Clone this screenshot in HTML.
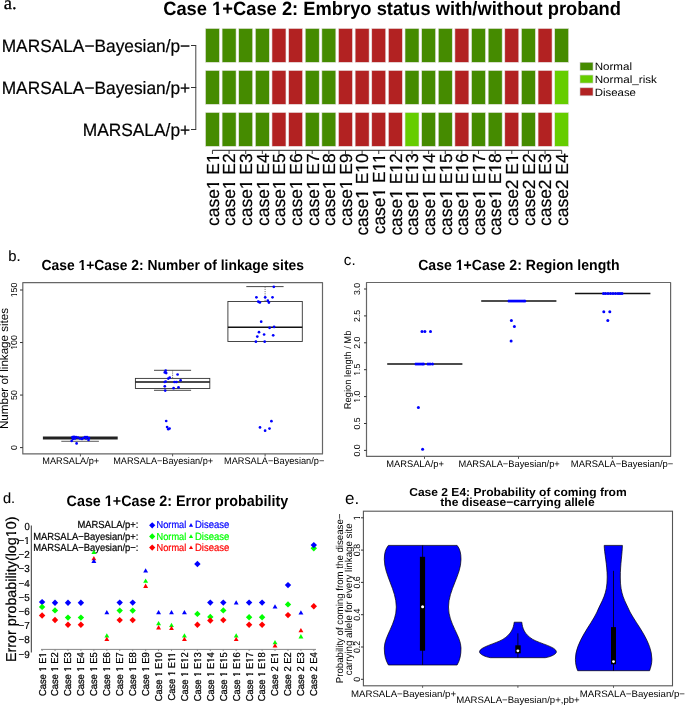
<!DOCTYPE html>
<html><head><meta charset="utf-8"><style>
html,body{margin:0;padding:0;background:#fff;}
body{width:685px;height:705px;overflow:hidden;}
svg{display:block;will-change:transform;}
text{text-rendering:geometricPrecision;}
</style></head><body>
<svg width="685" height="705" viewBox="0 0 685 705">
<rect width="685" height="705" fill="#fff"/>
<text x="3.8" y="9" font-size="18.5" font-family="Liberation Serif, sans-serif" stroke="#000" stroke-width="0.3" >a.</text>
<text x="163.2" y="15" font-size="19.2" font-family="Liberation Sans, sans-serif" font-weight="bold" textLength="457.8" lengthAdjust="spacingAndGlyphs" >Case 1+Case 2: Embryo status with/without proband</text><path d="M212.15 12.04H216.08V16.00H212.15ZM219.19 12.04H222.89V16.00H219.19Z" fill="#fff"/>
<rect x="205.45" y="28.45" width="14.0" height="33.9" fill="#458B00" stroke="#e8e4e4" stroke-width="0.6" />
<rect x="222.08" y="28.45" width="14.0" height="33.9" fill="#458B00" stroke="#e8e4e4" stroke-width="0.6" />
<rect x="238.71" y="28.45" width="14.0" height="33.9" fill="#458B00" stroke="#e8e4e4" stroke-width="0.6" />
<rect x="255.34" y="28.45" width="14.0" height="33.9" fill="#458B00" stroke="#e8e4e4" stroke-width="0.6" />
<rect x="271.97" y="28.45" width="14.0" height="33.9" fill="#B22222" stroke="#e8e4e4" stroke-width="0.6" />
<rect x="288.60" y="28.45" width="14.0" height="33.9" fill="#B22222" stroke="#e8e4e4" stroke-width="0.6" />
<rect x="305.23" y="28.45" width="14.0" height="33.9" fill="#458B00" stroke="#e8e4e4" stroke-width="0.6" />
<rect x="321.86" y="28.45" width="14.0" height="33.9" fill="#458B00" stroke="#e8e4e4" stroke-width="0.6" />
<rect x="338.49" y="28.45" width="14.0" height="33.9" fill="#B22222" stroke="#e8e4e4" stroke-width="0.6" />
<rect x="355.12" y="28.45" width="14.0" height="33.9" fill="#B22222" stroke="#e8e4e4" stroke-width="0.6" />
<rect x="371.75" y="28.45" width="14.0" height="33.9" fill="#B22222" stroke="#e8e4e4" stroke-width="0.6" />
<rect x="388.38" y="28.45" width="14.0" height="33.9" fill="#B22222" stroke="#e8e4e4" stroke-width="0.6" />
<rect x="405.01" y="28.45" width="14.0" height="33.9" fill="#458B00" stroke="#e8e4e4" stroke-width="0.6" />
<rect x="421.64" y="28.45" width="14.0" height="33.9" fill="#458B00" stroke="#e8e4e4" stroke-width="0.6" />
<rect x="438.27" y="28.45" width="14.0" height="33.9" fill="#458B00" stroke="#e8e4e4" stroke-width="0.6" />
<rect x="454.90" y="28.45" width="14.0" height="33.9" fill="#B22222" stroke="#e8e4e4" stroke-width="0.6" />
<rect x="471.53" y="28.45" width="14.0" height="33.9" fill="#458B00" stroke="#e8e4e4" stroke-width="0.6" />
<rect x="488.16" y="28.45" width="14.0" height="33.9" fill="#458B00" stroke="#e8e4e4" stroke-width="0.6" />
<rect x="504.79" y="28.45" width="14.0" height="33.9" fill="#B22222" stroke="#e8e4e4" stroke-width="0.6" />
<rect x="521.42" y="28.45" width="14.0" height="33.9" fill="#458B00" stroke="#e8e4e4" stroke-width="0.6" />
<rect x="538.05" y="28.45" width="14.0" height="33.9" fill="#B22222" stroke="#e8e4e4" stroke-width="0.6" />
<rect x="554.68" y="28.45" width="14.0" height="33.9" fill="#458B00" stroke="#e8e4e4" stroke-width="0.6" />
<rect x="205.45" y="70.45" width="14.0" height="33.9" fill="#458B00" stroke="#e8e4e4" stroke-width="0.6" />
<rect x="222.08" y="70.45" width="14.0" height="33.9" fill="#458B00" stroke="#e8e4e4" stroke-width="0.6" />
<rect x="238.71" y="70.45" width="14.0" height="33.9" fill="#458B00" stroke="#e8e4e4" stroke-width="0.6" />
<rect x="255.34" y="70.45" width="14.0" height="33.9" fill="#458B00" stroke="#e8e4e4" stroke-width="0.6" />
<rect x="271.97" y="70.45" width="14.0" height="33.9" fill="#B22222" stroke="#e8e4e4" stroke-width="0.6" />
<rect x="288.60" y="70.45" width="14.0" height="33.9" fill="#B22222" stroke="#e8e4e4" stroke-width="0.6" />
<rect x="305.23" y="70.45" width="14.0" height="33.9" fill="#458B00" stroke="#e8e4e4" stroke-width="0.6" />
<rect x="321.86" y="70.45" width="14.0" height="33.9" fill="#458B00" stroke="#e8e4e4" stroke-width="0.6" />
<rect x="338.49" y="70.45" width="14.0" height="33.9" fill="#B22222" stroke="#e8e4e4" stroke-width="0.6" />
<rect x="355.12" y="70.45" width="14.0" height="33.9" fill="#B22222" stroke="#e8e4e4" stroke-width="0.6" />
<rect x="371.75" y="70.45" width="14.0" height="33.9" fill="#B22222" stroke="#e8e4e4" stroke-width="0.6" />
<rect x="388.38" y="70.45" width="14.0" height="33.9" fill="#B22222" stroke="#e8e4e4" stroke-width="0.6" />
<rect x="405.01" y="70.45" width="14.0" height="33.9" fill="#458B00" stroke="#e8e4e4" stroke-width="0.6" />
<rect x="421.64" y="70.45" width="14.0" height="33.9" fill="#458B00" stroke="#e8e4e4" stroke-width="0.6" />
<rect x="438.27" y="70.45" width="14.0" height="33.9" fill="#458B00" stroke="#e8e4e4" stroke-width="0.6" />
<rect x="454.90" y="70.45" width="14.0" height="33.9" fill="#B22222" stroke="#e8e4e4" stroke-width="0.6" />
<rect x="471.53" y="70.45" width="14.0" height="33.9" fill="#458B00" stroke="#e8e4e4" stroke-width="0.6" />
<rect x="488.16" y="70.45" width="14.0" height="33.9" fill="#458B00" stroke="#e8e4e4" stroke-width="0.6" />
<rect x="504.79" y="70.45" width="14.0" height="33.9" fill="#B22222" stroke="#e8e4e4" stroke-width="0.6" />
<rect x="521.42" y="70.45" width="14.0" height="33.9" fill="#458B00" stroke="#e8e4e4" stroke-width="0.6" />
<rect x="538.05" y="70.45" width="14.0" height="33.9" fill="#B22222" stroke="#e8e4e4" stroke-width="0.6" />
<rect x="554.68" y="70.45" width="14.0" height="33.9" fill="#66CD00" stroke="#e8e4e4" stroke-width="0.6" />
<rect x="205.45" y="112.45" width="14.0" height="33.9" fill="#458B00" stroke="#e8e4e4" stroke-width="0.6" />
<rect x="222.08" y="112.45" width="14.0" height="33.9" fill="#458B00" stroke="#e8e4e4" stroke-width="0.6" />
<rect x="238.71" y="112.45" width="14.0" height="33.9" fill="#458B00" stroke="#e8e4e4" stroke-width="0.6" />
<rect x="255.34" y="112.45" width="14.0" height="33.9" fill="#458B00" stroke="#e8e4e4" stroke-width="0.6" />
<rect x="271.97" y="112.45" width="14.0" height="33.9" fill="#B22222" stroke="#e8e4e4" stroke-width="0.6" />
<rect x="288.60" y="112.45" width="14.0" height="33.9" fill="#B22222" stroke="#e8e4e4" stroke-width="0.6" />
<rect x="305.23" y="112.45" width="14.0" height="33.9" fill="#458B00" stroke="#e8e4e4" stroke-width="0.6" />
<rect x="321.86" y="112.45" width="14.0" height="33.9" fill="#458B00" stroke="#e8e4e4" stroke-width="0.6" />
<rect x="338.49" y="112.45" width="14.0" height="33.9" fill="#B22222" stroke="#e8e4e4" stroke-width="0.6" />
<rect x="355.12" y="112.45" width="14.0" height="33.9" fill="#B22222" stroke="#e8e4e4" stroke-width="0.6" />
<rect x="371.75" y="112.45" width="14.0" height="33.9" fill="#B22222" stroke="#e8e4e4" stroke-width="0.6" />
<rect x="388.38" y="112.45" width="14.0" height="33.9" fill="#B22222" stroke="#e8e4e4" stroke-width="0.6" />
<rect x="405.01" y="112.45" width="14.0" height="33.9" fill="#66CD00" stroke="#e8e4e4" stroke-width="0.6" />
<rect x="421.64" y="112.45" width="14.0" height="33.9" fill="#458B00" stroke="#e8e4e4" stroke-width="0.6" />
<rect x="438.27" y="112.45" width="14.0" height="33.9" fill="#458B00" stroke="#e8e4e4" stroke-width="0.6" />
<rect x="454.90" y="112.45" width="14.0" height="33.9" fill="#B22222" stroke="#e8e4e4" stroke-width="0.6" />
<rect x="471.53" y="112.45" width="14.0" height="33.9" fill="#458B00" stroke="#e8e4e4" stroke-width="0.6" />
<rect x="488.16" y="112.45" width="14.0" height="33.9" fill="#458B00" stroke="#e8e4e4" stroke-width="0.6" />
<rect x="504.79" y="112.45" width="14.0" height="33.9" fill="#B22222" stroke="#e8e4e4" stroke-width="0.6" />
<rect x="521.42" y="112.45" width="14.0" height="33.9" fill="#458B00" stroke="#e8e4e4" stroke-width="0.6" />
<rect x="538.05" y="112.45" width="14.0" height="33.9" fill="#B22222" stroke="#e8e4e4" stroke-width="0.6" />
<rect x="554.68" y="112.45" width="14.0" height="33.9" fill="#66CD00" stroke="#e8e4e4" stroke-width="0.6" />
<line x1="195.8" y1="45.5" x2="195.8" y2="129.5" stroke="#444" stroke-width="1" />
<line x1="191" y1="45.5" x2="196.2" y2="45.5" stroke="#333" stroke-width="1" />
<line x1="191" y1="87.5" x2="196.2" y2="87.5" stroke="#333" stroke-width="1" />
<line x1="191" y1="129.5" x2="196.2" y2="129.5" stroke="#333" stroke-width="1" />
<text x="190.2" y="52" font-size="17.9" font-family="Liberation Sans, sans-serif" text-anchor="end" stroke="#000" stroke-width="0.2" textLength="188.5" lengthAdjust="spacingAndGlyphs" >MARSALA−Bayesian/p−</text>
<text x="190.2" y="94" font-size="17.9" font-family="Liberation Sans, sans-serif" text-anchor="end" stroke="#000" stroke-width="0.2" textLength="188.5" lengthAdjust="spacingAndGlyphs" >MARSALA−Bayesian/p+</text>
<text x="190.2" y="136" font-size="17.9" font-family="Liberation Sans, sans-serif" text-anchor="end" stroke="#000" stroke-width="0.2" textLength="107.5" lengthAdjust="spacingAndGlyphs" >MARSALA/p+</text>
<line x1="212.45" y1="150.3" x2="561.68" y2="150.3" stroke="#222" stroke-width="1" />
<line x1="212.45" y1="150.3" x2="212.45" y2="154.0" stroke="#222" stroke-width="0.9" />
<line x1="229.07999999999998" y1="150.3" x2="229.07999999999998" y2="154.0" stroke="#222" stroke-width="0.9" />
<line x1="245.70999999999998" y1="150.3" x2="245.70999999999998" y2="154.0" stroke="#222" stroke-width="0.9" />
<line x1="262.34" y1="150.3" x2="262.34" y2="154.0" stroke="#222" stroke-width="0.9" />
<line x1="278.96999999999997" y1="150.3" x2="278.96999999999997" y2="154.0" stroke="#222" stroke-width="0.9" />
<line x1="295.59999999999997" y1="150.3" x2="295.59999999999997" y2="154.0" stroke="#222" stroke-width="0.9" />
<line x1="312.23" y1="150.3" x2="312.23" y2="154.0" stroke="#222" stroke-width="0.9" />
<line x1="328.86" y1="150.3" x2="328.86" y2="154.0" stroke="#222" stroke-width="0.9" />
<line x1="345.49" y1="150.3" x2="345.49" y2="154.0" stroke="#222" stroke-width="0.9" />
<line x1="362.12" y1="150.3" x2="362.12" y2="154.0" stroke="#222" stroke-width="0.9" />
<line x1="378.75" y1="150.3" x2="378.75" y2="154.0" stroke="#222" stroke-width="0.9" />
<line x1="395.38" y1="150.3" x2="395.38" y2="154.0" stroke="#222" stroke-width="0.9" />
<line x1="412.01" y1="150.3" x2="412.01" y2="154.0" stroke="#222" stroke-width="0.9" />
<line x1="428.64" y1="150.3" x2="428.64" y2="154.0" stroke="#222" stroke-width="0.9" />
<line x1="445.27" y1="150.3" x2="445.27" y2="154.0" stroke="#222" stroke-width="0.9" />
<line x1="461.9" y1="150.3" x2="461.9" y2="154.0" stroke="#222" stroke-width="0.9" />
<line x1="478.53" y1="150.3" x2="478.53" y2="154.0" stroke="#222" stroke-width="0.9" />
<line x1="495.15999999999997" y1="150.3" x2="495.15999999999997" y2="154.0" stroke="#222" stroke-width="0.9" />
<line x1="511.78999999999996" y1="150.3" x2="511.78999999999996" y2="154.0" stroke="#222" stroke-width="0.9" />
<line x1="528.42" y1="150.3" x2="528.42" y2="154.0" stroke="#222" stroke-width="0.9" />
<line x1="545.05" y1="150.3" x2="545.05" y2="154.0" stroke="#222" stroke-width="0.9" />
<line x1="561.68" y1="150.3" x2="561.68" y2="154.0" stroke="#222" stroke-width="0.9" />
<text transform="translate(219,153.4) rotate(-90)" font-size="17.49" font-family="Liberation Sans, sans-serif" text-anchor="end" stroke="#000" stroke-width="0.2" textLength="72.55" lengthAdjust="spacingAndGlyphs" >case1 E1</text><path transform="translate(219,153.4) rotate(-90)" d="M-35.68 -2.41H-31.83V1.10H-35.68ZM-29.49 -2.41H-25.78V1.10H-29.49ZM-9.56 -2.41H-5.71V1.10H-9.56ZM-3.37 -2.41H0.34V1.10H-3.37Z" fill="#fff"/>
<text transform="translate(235,153.4) rotate(-90)" font-size="17.49" font-family="Liberation Sans, sans-serif" text-anchor="end" stroke="#000" stroke-width="0.2" textLength="72.55" lengthAdjust="spacingAndGlyphs" >case1 E2</text><path transform="translate(235,153.4) rotate(-90)" d="M-35.68 -2.41H-31.83V1.10H-35.68ZM-29.49 -2.41H-25.78V1.10H-29.49Z" fill="#fff"/>
<text transform="translate(252,153.4) rotate(-90)" font-size="17.49" font-family="Liberation Sans, sans-serif" text-anchor="end" stroke="#000" stroke-width="0.2" textLength="72.55" lengthAdjust="spacingAndGlyphs" >case1 E3</text><path transform="translate(252,153.4) rotate(-90)" d="M-35.68 -2.41H-31.83V1.10H-35.68ZM-29.49 -2.41H-25.78V1.10H-29.49Z" fill="#fff"/>
<text transform="translate(269,153.4) rotate(-90)" font-size="17.49" font-family="Liberation Sans, sans-serif" text-anchor="end" stroke="#000" stroke-width="0.2" textLength="72.55" lengthAdjust="spacingAndGlyphs" >case1 E4</text><path transform="translate(269,153.4) rotate(-90)" d="M-35.68 -2.41H-31.83V1.10H-35.68ZM-29.49 -2.41H-25.78V1.10H-29.49Z" fill="#fff"/>
<text transform="translate(285,153.4) rotate(-90)" font-size="17.49" font-family="Liberation Sans, sans-serif" text-anchor="end" stroke="#000" stroke-width="0.2" textLength="72.55" lengthAdjust="spacingAndGlyphs" >case1 E5</text><path transform="translate(285,153.4) rotate(-90)" d="M-35.68 -2.41H-31.83V1.10H-35.68ZM-29.49 -2.41H-25.78V1.10H-29.49Z" fill="#fff"/>
<text transform="translate(302,153.4) rotate(-90)" font-size="17.49" font-family="Liberation Sans, sans-serif" text-anchor="end" stroke="#000" stroke-width="0.2" textLength="72.55" lengthAdjust="spacingAndGlyphs" >case1 E6</text><path transform="translate(302,153.4) rotate(-90)" d="M-35.68 -2.41H-31.83V1.10H-35.68ZM-29.49 -2.41H-25.78V1.10H-29.49Z" fill="#fff"/>
<text transform="translate(319,153.4) rotate(-90)" font-size="17.49" font-family="Liberation Sans, sans-serif" text-anchor="end" stroke="#000" stroke-width="0.2" textLength="72.55" lengthAdjust="spacingAndGlyphs" >case1 E7</text><path transform="translate(319,153.4) rotate(-90)" d="M-35.68 -2.41H-31.83V1.10H-35.68ZM-29.49 -2.41H-25.78V1.10H-29.49Z" fill="#fff"/>
<text transform="translate(335,153.4) rotate(-90)" font-size="17.49" font-family="Liberation Sans, sans-serif" text-anchor="end" stroke="#000" stroke-width="0.2" textLength="72.55" lengthAdjust="spacingAndGlyphs" >case1 E8</text><path transform="translate(335,153.4) rotate(-90)" d="M-35.68 -2.41H-31.83V1.10H-35.68ZM-29.49 -2.41H-25.78V1.10H-29.49Z" fill="#fff"/>
<text transform="translate(352,153.4) rotate(-90)" font-size="17.49" font-family="Liberation Sans, sans-serif" text-anchor="end" stroke="#000" stroke-width="0.2" textLength="72.55" lengthAdjust="spacingAndGlyphs" >case1 E9</text><path transform="translate(352,153.4) rotate(-90)" d="M-35.68 -2.41H-31.83V1.10H-35.68ZM-29.49 -2.41H-25.78V1.10H-29.49Z" fill="#fff"/>
<text transform="translate(368,153.4) rotate(-90)" font-size="17.49" font-family="Liberation Sans, sans-serif" text-anchor="end" stroke="#000" stroke-width="0.2" textLength="82.23" lengthAdjust="spacingAndGlyphs" >case1 E10</text><path transform="translate(368,153.4) rotate(-90)" d="M-45.36 -2.41H-41.51V1.10H-45.36ZM-39.17 -2.41H-35.45V1.10H-39.17ZM-19.23 -2.41H-15.38V1.10H-19.23ZM-13.04 -2.41H-9.33V1.10H-13.04Z" fill="#fff"/>
<text transform="translate(385,153.4) rotate(-90)" font-size="17.49" font-family="Liberation Sans, sans-serif" text-anchor="end" stroke="#000" stroke-width="0.2" textLength="80.93" lengthAdjust="spacingAndGlyphs" >case1 E11</text><path transform="translate(385,153.4) rotate(-90)" d="M-44.06 -2.41H-40.21V1.10H-44.06ZM-37.87 -2.41H-34.16V1.10H-37.87ZM-17.94 -2.41H-14.09V1.10H-17.94ZM-11.75 -2.41H-8.04V1.10H-11.75ZM-9.56 -2.41H-5.71V1.10H-9.56ZM-3.37 -2.41H0.34V1.10H-3.37Z" fill="#fff"/>
<text transform="translate(402,153.4) rotate(-90)" font-size="17.49" font-family="Liberation Sans, sans-serif" text-anchor="end" stroke="#000" stroke-width="0.2" textLength="82.23" lengthAdjust="spacingAndGlyphs" >case1 E12</text><path transform="translate(402,153.4) rotate(-90)" d="M-45.36 -2.41H-41.51V1.10H-45.36ZM-39.17 -2.41H-35.45V1.10H-39.17ZM-19.23 -2.41H-15.38V1.10H-19.23ZM-13.04 -2.41H-9.33V1.10H-13.04Z" fill="#fff"/>
<text transform="translate(418,153.4) rotate(-90)" font-size="17.49" font-family="Liberation Sans, sans-serif" text-anchor="end" stroke="#000" stroke-width="0.2" textLength="82.23" lengthAdjust="spacingAndGlyphs" >case1 E13</text><path transform="translate(418,153.4) rotate(-90)" d="M-45.36 -2.41H-41.51V1.10H-45.36ZM-39.17 -2.41H-35.45V1.10H-39.17ZM-19.23 -2.41H-15.38V1.10H-19.23ZM-13.04 -2.41H-9.33V1.10H-13.04Z" fill="#fff"/>
<text transform="translate(435,153.4) rotate(-90)" font-size="17.49" font-family="Liberation Sans, sans-serif" text-anchor="end" stroke="#000" stroke-width="0.2" textLength="82.23" lengthAdjust="spacingAndGlyphs" >case1 E14</text><path transform="translate(435,153.4) rotate(-90)" d="M-45.36 -2.41H-41.51V1.10H-45.36ZM-39.17 -2.41H-35.45V1.10H-39.17ZM-19.23 -2.41H-15.38V1.10H-19.23ZM-13.04 -2.41H-9.33V1.10H-13.04Z" fill="#fff"/>
<text transform="translate(452,153.4) rotate(-90)" font-size="17.49" font-family="Liberation Sans, sans-serif" text-anchor="end" stroke="#000" stroke-width="0.2" textLength="82.23" lengthAdjust="spacingAndGlyphs" >case1 E15</text><path transform="translate(452,153.4) rotate(-90)" d="M-45.36 -2.41H-41.51V1.10H-45.36ZM-39.17 -2.41H-35.45V1.10H-39.17ZM-19.23 -2.41H-15.38V1.10H-19.23ZM-13.04 -2.41H-9.33V1.10H-13.04Z" fill="#fff"/>
<text transform="translate(468,153.4) rotate(-90)" font-size="17.49" font-family="Liberation Sans, sans-serif" text-anchor="end" stroke="#000" stroke-width="0.2" textLength="82.23" lengthAdjust="spacingAndGlyphs" >case1 E16</text><path transform="translate(468,153.4) rotate(-90)" d="M-45.36 -2.41H-41.51V1.10H-45.36ZM-39.17 -2.41H-35.45V1.10H-39.17ZM-19.23 -2.41H-15.38V1.10H-19.23ZM-13.04 -2.41H-9.33V1.10H-13.04Z" fill="#fff"/>
<text transform="translate(485,153.4) rotate(-90)" font-size="17.49" font-family="Liberation Sans, sans-serif" text-anchor="end" stroke="#000" stroke-width="0.2" textLength="82.23" lengthAdjust="spacingAndGlyphs" >case1 E17</text><path transform="translate(485,153.4) rotate(-90)" d="M-45.36 -2.41H-41.51V1.10H-45.36ZM-39.17 -2.41H-35.45V1.10H-39.17ZM-19.23 -2.41H-15.38V1.10H-19.23ZM-13.04 -2.41H-9.33V1.10H-13.04Z" fill="#fff"/>
<text transform="translate(501,153.4) rotate(-90)" font-size="17.49" font-family="Liberation Sans, sans-serif" text-anchor="end" stroke="#000" stroke-width="0.2" textLength="82.23" lengthAdjust="spacingAndGlyphs" >case1 E18</text><path transform="translate(501,153.4) rotate(-90)" d="M-45.36 -2.41H-41.51V1.10H-45.36ZM-39.17 -2.41H-35.45V1.10H-39.17ZM-19.23 -2.41H-15.38V1.10H-19.23ZM-13.04 -2.41H-9.33V1.10H-13.04Z" fill="#fff"/>
<text transform="translate(518,153.4) rotate(-90)" font-size="17.49" font-family="Liberation Sans, sans-serif" text-anchor="end" stroke="#000" stroke-width="0.2" textLength="72.55" lengthAdjust="spacingAndGlyphs" >case2 E1</text><path transform="translate(518,153.4) rotate(-90)" d="M-9.56 -2.41H-5.71V1.10H-9.56ZM-3.37 -2.41H0.34V1.10H-3.37Z" fill="#fff"/>
<text transform="translate(535,153.4) rotate(-90)" font-size="17.49" font-family="Liberation Sans, sans-serif" text-anchor="end" stroke="#000" stroke-width="0.2" textLength="72.55" lengthAdjust="spacingAndGlyphs" >case2 E2</text>
<text transform="translate(551,153.4) rotate(-90)" font-size="17.49" font-family="Liberation Sans, sans-serif" text-anchor="end" stroke="#000" stroke-width="0.2" textLength="72.55" lengthAdjust="spacingAndGlyphs" >case2 E3</text>
<text transform="translate(568,153.4) rotate(-90)" font-size="17.49" font-family="Liberation Sans, sans-serif" text-anchor="end" stroke="#000" stroke-width="0.2" textLength="72.55" lengthAdjust="spacingAndGlyphs" >case2 E4</text>
<rect x="580" y="62.3" width="13" height="8" fill="#458B00" stroke="#ccc" stroke-width="0.6" />
<text x="594.7" y="70" font-size="10.6" font-family="Liberation Sans, sans-serif" textLength="37.3" lengthAdjust="spacingAndGlyphs" >Normal</text>
<rect x="580" y="75.05" width="13" height="8" fill="#66CD00" stroke="#ccc" stroke-width="0.6" />
<text x="594.7" y="83" font-size="10.6" font-family="Liberation Sans, sans-serif" textLength="62.2" lengthAdjust="spacingAndGlyphs" >Normal_risk</text>
<rect x="580" y="87.8" width="13" height="8" fill="#B22222" stroke="#ccc" stroke-width="0.6" />
<text x="594.7" y="96" font-size="10.6" font-family="Liberation Sans, sans-serif" textLength="41.3" lengthAdjust="spacingAndGlyphs" >Disease</text>
<text x="8.2" y="261" font-size="14.8" font-family="Liberation Sans, sans-serif" stroke="#000" stroke-width="0.1" >b.</text>
<text x="41.5" y="270" font-size="14.56" font-family="Liberation Sans, sans-serif" font-weight="bold" textLength="262.49" lengthAdjust="spacingAndGlyphs" >Case 1+Case 2: Number of linkage sites</text><path d="M78.28 267.51H81.44V271.00H78.28ZM83.95 267.51H86.94V271.00H83.95Z" fill="#fff"/>
<rect x="22.8" y="282.6" width="299.7" height="171.29999999999995" fill="none" stroke="#666" stroke-width="1.2" stroke-linejoin="round"/>
<line x1="20" y1="447.6" x2="22.8" y2="447.6" stroke="#333" stroke-width="1" />
<text transform="translate(17,447.6) rotate(-90)" font-size="8.7" font-family="Liberation Sans, sans-serif" text-anchor="middle" >0</text>
<line x1="20" y1="395.07000000000005" x2="22.8" y2="395.07000000000005" stroke="#333" stroke-width="1" />
<text transform="translate(17,395.1) rotate(-90)" font-size="8.7" font-family="Liberation Sans, sans-serif" text-anchor="middle" >50</text>
<line x1="20" y1="342.54" x2="22.8" y2="342.54" stroke="#333" stroke-width="1" />
<text transform="translate(17,342.5) rotate(-90)" font-size="8.7" font-family="Liberation Sans, sans-serif" text-anchor="middle" >100</text><path transform="translate(17,342.5) rotate(-90)" d="M-7.44 -1.65H-5.36V1.00H-7.44ZM-3.99 -1.65H-1.99V1.00H-3.99Z" fill="#fff"/>
<line x1="20" y1="290.01" x2="22.8" y2="290.01" stroke="#333" stroke-width="1" />
<text transform="translate(17,290.0) rotate(-90)" font-size="8.7" font-family="Liberation Sans, sans-serif" text-anchor="middle" >150</text><path transform="translate(17,290.0) rotate(-90)" d="M-7.44 -1.65H-5.36V1.00H-7.44ZM-3.99 -1.65H-1.99V1.00H-3.99Z" fill="#fff"/>
<text transform="translate(8,368.5) rotate(-90)" font-size="11.6" font-family="Liberation Sans, sans-serif" text-anchor="middle" textLength="121" lengthAdjust="spacingAndGlyphs" >Number of linkage sites</text>
<line x1="80.4" y1="453.9" x2="80.4" y2="456.4" stroke="#555" stroke-width="1" />
<line x1="172.6" y1="453.9" x2="172.6" y2="456.4" stroke="#555" stroke-width="1" />
<line x1="265.1" y1="453.9" x2="265.1" y2="456.4" stroke="#555" stroke-width="1" />
<text x="42.3" y="464" font-size="9.6" font-family="Liberation Sans, sans-serif" textLength="56.9" lengthAdjust="spacingAndGlyphs" >MARSALA/p+</text>
<text x="113.2" y="464" font-size="9.6" font-family="Liberation Sans, sans-serif" textLength="99.9" lengthAdjust="spacingAndGlyphs" >MARSALA−Bayesian/p+</text>
<text x="224.0" y="464" font-size="9.6" font-family="Liberation Sans, sans-serif" textLength="100.3" lengthAdjust="spacingAndGlyphs" >MARSALA−Bayesian/p−</text>
<line x1="42.9" y1="437.9" x2="117.7" y2="437.9" stroke="#222" stroke-width="3" />
<line x1="61.3" y1="441.3" x2="98.9" y2="441.3" stroke="#333" stroke-width="0.8" />
<rect x="135.4" y="378.4" width="74.4" height="10.1" fill="none" stroke="#333" stroke-width="0.9" />
<line x1="135.4" y1="382" x2="209.8" y2="382" stroke="#111" stroke-width="1.4" />
<line x1="154" y1="370.3" x2="191.1" y2="370.3" stroke="#333" stroke-width="0.9" />
<line x1="154" y1="390.3" x2="191.1" y2="390.3" stroke="#333" stroke-width="0.9" />
<line x1="172.6" y1="370.3" x2="172.6" y2="378.4" stroke="#555" stroke-width="0.8" stroke-dasharray="1.2,1"/>
<rect x="227.9" y="301.5" width="74.4" height="40" fill="none" stroke="#333" stroke-width="0.9" />
<line x1="227.9" y1="327.3" x2="302.3" y2="327.3" stroke="#111" stroke-width="1.4" />
<line x1="246.3" y1="286.6" x2="283.6" y2="286.6" stroke="#333" stroke-width="0.9" />
<line x1="265.1" y1="286.6" x2="265.1" y2="301.5" stroke="#555" stroke-width="0.8" stroke-dasharray="1.2,1"/>
<circle cx="72.5" cy="437.0" r="1.35" fill="#0000FF"/>
<circle cx="74.0" cy="436.8" r="1.35" fill="#0000FF"/>
<circle cx="76.0" cy="437.0" r="1.35" fill="#0000FF"/>
<circle cx="78.0" cy="437.5" r="1.35" fill="#0000FF"/>
<circle cx="80.0" cy="438.5" r="1.35" fill="#0000FF"/>
<circle cx="83.0" cy="438.0" r="1.35" fill="#0000FF"/>
<circle cx="85.0" cy="437.0" r="1.35" fill="#0000FF"/>
<circle cx="87.0" cy="437.0" r="1.35" fill="#0000FF"/>
<circle cx="89.0" cy="438.0" r="1.35" fill="#0000FF"/>
<circle cx="88.5" cy="440.0" r="1.35" fill="#0000FF"/>
<circle cx="73.0" cy="439.0" r="1.35" fill="#0000FF"/>
<circle cx="71.7" cy="441.0" r="1.35" fill="#0000FF"/>
<circle cx="76.6" cy="443.4" r="1.35" fill="#0000FF"/>
<circle cx="82.0" cy="439.0" r="1.35" fill="#0000FF"/>
<circle cx="75.0" cy="438.5" r="1.35" fill="#0000FF"/>
<circle cx="86.0" cy="438.5" r="1.35" fill="#0000FF"/>
<circle cx="165.7" cy="370.7" r="1.35" fill="#0000FF"/>
<circle cx="164.8" cy="372.4" r="1.35" fill="#0000FF"/>
<circle cx="166.2" cy="373.1" r="1.35" fill="#0000FF"/>
<circle cx="177.6" cy="374.5" r="1.35" fill="#0000FF"/>
<circle cx="169.7" cy="377.7" r="1.35" fill="#0000FF"/>
<circle cx="168.3" cy="378.6" r="1.35" fill="#0000FF"/>
<circle cx="165.7" cy="381.5" r="1.35" fill="#0000FF"/>
<circle cx="164.8" cy="382.0" r="1.35" fill="#0000FF"/>
<circle cx="174.5" cy="382.0" r="1.35" fill="#0000FF"/>
<circle cx="176.4" cy="382.0" r="1.35" fill="#0000FF"/>
<circle cx="180.6" cy="380.3" r="1.35" fill="#0000FF"/>
<circle cx="164.8" cy="386.3" r="1.35" fill="#0000FF"/>
<circle cx="173.6" cy="388.2" r="1.35" fill="#0000FF"/>
<circle cx="178.5" cy="387.3" r="1.35" fill="#0000FF"/>
<circle cx="165.2" cy="390.6" r="1.35" fill="#0000FF"/>
<circle cx="166.2" cy="421.0" r="1.35" fill="#0000FF"/>
<circle cx="167.1" cy="427.1" r="1.35" fill="#0000FF"/>
<circle cx="168.3" cy="429.2" r="1.35" fill="#0000FF"/>
<circle cx="169.6" cy="428.5" r="1.35" fill="#0000FF"/>
<circle cx="273.8" cy="286.8" r="1.35" fill="#0000FF"/>
<circle cx="256.4" cy="297.3" r="1.35" fill="#0000FF"/>
<circle cx="265.2" cy="297.3" r="1.35" fill="#0000FF"/>
<circle cx="272.5" cy="297.3" r="1.35" fill="#0000FF"/>
<circle cx="258.2" cy="301.5" r="1.35" fill="#0000FF"/>
<circle cx="259.9" cy="302.4" r="1.35" fill="#0000FF"/>
<circle cx="259.0" cy="302.0" r="1.35" fill="#0000FF"/>
<circle cx="267.8" cy="300.7" r="1.35" fill="#0000FF"/>
<circle cx="268.9" cy="302.6" r="1.35" fill="#0000FF"/>
<circle cx="261.2" cy="321.7" r="1.35" fill="#0000FF"/>
<circle cx="269.6" cy="327.8" r="1.35" fill="#0000FF"/>
<circle cx="274.1" cy="326.9" r="1.35" fill="#0000FF"/>
<circle cx="259.0" cy="332.2" r="1.35" fill="#0000FF"/>
<circle cx="264.1" cy="334.5" r="1.35" fill="#0000FF"/>
<circle cx="257.3" cy="336.6" r="1.35" fill="#0000FF"/>
<circle cx="273.2" cy="335.3" r="1.35" fill="#0000FF"/>
<circle cx="255.9" cy="341.7" r="1.35" fill="#0000FF"/>
<circle cx="264.7" cy="341.7" r="1.35" fill="#0000FF"/>
<circle cx="271.4" cy="421.2" r="1.35" fill="#0000FF"/>
<circle cx="260.0" cy="427.4" r="1.35" fill="#0000FF"/>
<circle cx="265.1" cy="430.7" r="1.35" fill="#0000FF"/>
<circle cx="269.5" cy="428.6" r="1.35" fill="#0000FF"/>
<text x="343.8" y="265" font-size="15.2" font-family="Liberation Sans, sans-serif" >c.</text>
<text x="418.2" y="270" font-size="14.77" font-family="Liberation Sans, sans-serif" font-weight="bold" textLength="201.34" lengthAdjust="spacingAndGlyphs" >Case 1+Case 2: Region length</text><path d="M455.52 267.49H458.72V271.00H455.52ZM461.25 267.49H464.27V271.00H461.25Z" fill="#fff"/>
<rect x="366.5" y="282.5" width="304.1" height="173.89999999999998" fill="none" stroke="#666" stroke-width="1.2" stroke-linejoin="round"/>
<line x1="364" y1="450.4" x2="366.5" y2="450.4" stroke="#333" stroke-width="1" />
<text transform="translate(360,450.4) rotate(-90)" font-size="8.7" font-family="Liberation Sans, sans-serif" text-anchor="middle" >0.0</text>
<line x1="364" y1="423.5" x2="366.5" y2="423.5" stroke="#333" stroke-width="1" />
<text transform="translate(360,423.5) rotate(-90)" font-size="8.7" font-family="Liberation Sans, sans-serif" text-anchor="middle" >0.5</text>
<line x1="364" y1="396.59999999999997" x2="366.5" y2="396.59999999999997" stroke="#333" stroke-width="1" />
<text transform="translate(360,396.6) rotate(-90)" font-size="8.7" font-family="Liberation Sans, sans-serif" text-anchor="middle" >1.0</text><path transform="translate(360,396.6) rotate(-90)" d="M-6.23 -1.65H-4.15V1.00H-6.23ZM-2.78 -1.65H-0.78V1.00H-2.78Z" fill="#fff"/>
<line x1="364" y1="369.7" x2="366.5" y2="369.7" stroke="#333" stroke-width="1" />
<text transform="translate(360,369.7) rotate(-90)" font-size="8.7" font-family="Liberation Sans, sans-serif" text-anchor="middle" >1.5</text><path transform="translate(360,369.7) rotate(-90)" d="M-6.23 -1.65H-4.15V1.00H-6.23ZM-2.78 -1.65H-0.78V1.00H-2.78Z" fill="#fff"/>
<line x1="364" y1="342.79999999999995" x2="366.5" y2="342.79999999999995" stroke="#333" stroke-width="1" />
<text transform="translate(360,342.8) rotate(-90)" font-size="8.7" font-family="Liberation Sans, sans-serif" text-anchor="middle" >2.0</text>
<line x1="364" y1="315.9" x2="366.5" y2="315.9" stroke="#333" stroke-width="1" />
<text transform="translate(360,315.9) rotate(-90)" font-size="8.7" font-family="Liberation Sans, sans-serif" text-anchor="middle" >2.5</text>
<line x1="364" y1="289.0" x2="366.5" y2="289.0" stroke="#333" stroke-width="1" />
<text transform="translate(360,289.0) rotate(-90)" font-size="8.7" font-family="Liberation Sans, sans-serif" text-anchor="middle" >3.0</text>
<text transform="translate(351,369.9) rotate(-90)" font-size="9.73" font-family="Liberation Sans, sans-serif" text-anchor="middle" textLength="78.57" lengthAdjust="spacingAndGlyphs" >Region length / Mb</text>
<line x1="424.5" y1="456.4" x2="424.5" y2="458.9" stroke="#555" stroke-width="1" />
<line x1="518.5" y1="456.4" x2="518.5" y2="458.9" stroke="#555" stroke-width="1" />
<line x1="612.3" y1="456.4" x2="612.3" y2="458.9" stroke="#555" stroke-width="1" />
<text x="386.2" y="467" font-size="9.5" font-family="Liberation Sans, sans-serif" textLength="57.8" lengthAdjust="spacingAndGlyphs" >MARSALA/p+</text>
<text x="458.4" y="467" font-size="9.5" font-family="Liberation Sans, sans-serif" textLength="101.4" lengthAdjust="spacingAndGlyphs" >MARSALA−Bayesian/p+</text>
<text x="570.8" y="467" font-size="9.5" font-family="Liberation Sans, sans-serif" textLength="102.5" lengthAdjust="spacingAndGlyphs" >MARSALA−Bayesian/p−</text>
<line x1="387.2" y1="364" x2="462.4" y2="364" stroke="#111" stroke-width="1.5" />
<line x1="481.2" y1="301" x2="556.4" y2="301" stroke="#111" stroke-width="1.5" />
<line x1="574.9" y1="293.6" x2="650.4" y2="293.6" stroke="#111" stroke-width="1.5" />
<circle cx="416.0" cy="364.0" r="1.5" fill="#0000FF"/>
<circle cx="418.0" cy="364.0" r="1.5" fill="#0000FF"/>
<circle cx="420.0" cy="364.0" r="1.5" fill="#0000FF"/>
<circle cx="422.0" cy="364.0" r="1.5" fill="#0000FF"/>
<circle cx="423.5" cy="364.0" r="1.5" fill="#0000FF"/>
<circle cx="428.0" cy="364.0" r="1.5" fill="#0000FF"/>
<circle cx="430.0" cy="364.0" r="1.5" fill="#0000FF"/>
<circle cx="432.5" cy="364.0" r="1.5" fill="#0000FF"/>
<circle cx="422.0" cy="331.5" r="1.5" fill="#0000FF"/>
<circle cx="424.9" cy="331.5" r="1.5" fill="#0000FF"/>
<circle cx="430.5" cy="331.5" r="1.5" fill="#0000FF"/>
<circle cx="418.4" cy="407.6" r="1.5" fill="#0000FF"/>
<circle cx="422.6" cy="449.3" r="1.5" fill="#0000FF"/>
<circle cx="509.0" cy="301.0" r="1.5" fill="#0000FF"/>
<circle cx="511.0" cy="301.0" r="1.5" fill="#0000FF"/>
<circle cx="513.0" cy="301.0" r="1.5" fill="#0000FF"/>
<circle cx="515.0" cy="301.0" r="1.5" fill="#0000FF"/>
<circle cx="517.0" cy="301.0" r="1.5" fill="#0000FF"/>
<circle cx="519.0" cy="301.0" r="1.5" fill="#0000FF"/>
<circle cx="521.0" cy="301.0" r="1.5" fill="#0000FF"/>
<circle cx="523.0" cy="301.0" r="1.5" fill="#0000FF"/>
<circle cx="524.8" cy="301.0" r="1.5" fill="#0000FF"/>
<circle cx="511.4" cy="320.4" r="1.5" fill="#0000FF"/>
<circle cx="514.4" cy="326.5" r="1.5" fill="#0000FF"/>
<circle cx="511.1" cy="340.9" r="1.5" fill="#0000FF"/>
<circle cx="603.5" cy="293.6" r="1.5" fill="#0000FF"/>
<circle cx="605.5" cy="293.6" r="1.5" fill="#0000FF"/>
<circle cx="608.0" cy="293.6" r="1.5" fill="#0000FF"/>
<circle cx="610.5" cy="293.6" r="1.5" fill="#0000FF"/>
<circle cx="613.0" cy="293.6" r="1.5" fill="#0000FF"/>
<circle cx="615.5" cy="293.6" r="1.5" fill="#0000FF"/>
<circle cx="618.0" cy="293.6" r="1.5" fill="#0000FF"/>
<circle cx="620.0" cy="293.6" r="1.5" fill="#0000FF"/>
<circle cx="622.0" cy="293.6" r="1.5" fill="#0000FF"/>
<circle cx="603.8" cy="311.7" r="1.5" fill="#0000FF"/>
<circle cx="609.8" cy="311.7" r="1.5" fill="#0000FF"/>
<circle cx="607.8" cy="320.4" r="1.5" fill="#0000FF"/>
<text x="3.0" y="503" font-size="14.6" font-family="Liberation Sans, sans-serif" stroke="#000" stroke-width="0.1" >d.</text>
<text x="66.6" y="506" font-size="15.18" font-family="Liberation Sans, sans-serif" font-weight="bold" textLength="221.65" lengthAdjust="spacingAndGlyphs" >Case 1+Case 2: Error probability</text><path d="M104.61 503.45H107.85V507.00H104.61ZM110.42 503.45H113.48V507.00H110.42Z" fill="#fff"/>
<line x1="31.3" y1="525.5" x2="31.3" y2="652.5" stroke="#333" stroke-width="1" />
<text x="29.7" y="530" font-size="10.2" font-family="Liberation Sans, sans-serif" text-anchor="end" stroke="#000" stroke-width="0.2" textLength="5.3" lengthAdjust="spacingAndGlyphs" >0</text>
<text x="29.7" y="544" font-size="10.2" font-family="Liberation Sans, sans-serif" text-anchor="end" stroke="#000" stroke-width="0.2" textLength="11.3" lengthAdjust="spacingAndGlyphs" >−1</text><path d="M23.98 542.14H26.26V545.10H23.98ZM27.94 542.14H30.15V545.10H27.94Z" fill="#fff"/>
<text x="29.7" y="558" font-size="10.2" font-family="Liberation Sans, sans-serif" text-anchor="end" stroke="#000" stroke-width="0.2" textLength="11.3" lengthAdjust="spacingAndGlyphs" >−2</text>
<text x="29.7" y="572" font-size="10.2" font-family="Liberation Sans, sans-serif" text-anchor="end" stroke="#000" stroke-width="0.2" textLength="11.3" lengthAdjust="spacingAndGlyphs" >−3</text>
<text x="29.7" y="587" font-size="10.2" font-family="Liberation Sans, sans-serif" text-anchor="end" stroke="#000" stroke-width="0.2" textLength="11.3" lengthAdjust="spacingAndGlyphs" >−4</text>
<text x="29.7" y="601" font-size="10.2" font-family="Liberation Sans, sans-serif" text-anchor="end" stroke="#000" stroke-width="0.2" textLength="11.3" lengthAdjust="spacingAndGlyphs" >−5</text>
<text x="29.7" y="615" font-size="10.2" font-family="Liberation Sans, sans-serif" text-anchor="end" stroke="#000" stroke-width="0.2" textLength="11.3" lengthAdjust="spacingAndGlyphs" >−6</text>
<text x="29.7" y="629" font-size="10.2" font-family="Liberation Sans, sans-serif" text-anchor="end" stroke="#000" stroke-width="0.2" textLength="11.3" lengthAdjust="spacingAndGlyphs" >−7</text>
<text x="29.7" y="643" font-size="10.2" font-family="Liberation Sans, sans-serif" text-anchor="end" stroke="#000" stroke-width="0.2" textLength="11.3" lengthAdjust="spacingAndGlyphs" >−8</text>
<text x="29.7" y="658" font-size="10.2" font-family="Liberation Sans, sans-serif" text-anchor="end" stroke="#000" stroke-width="0.2" textLength="11.3" lengthAdjust="spacingAndGlyphs" >−9</text>
<text transform="translate(16,589.3) rotate(-90)" font-size="14.4" font-family="Liberation Sans, sans-serif" text-anchor="middle" stroke="#000" stroke-width="0.2" textLength="145.5" lengthAdjust="spacingAndGlyphs" >Error probability(log10)</text><path transform="translate(16,589.3) rotate(-90)" d="M51.95 -2.18H55.26V1.10H51.95ZM57.33 -2.18H60.52V1.10H57.33Z" fill="#fff"/>
<text x="138.4" y="528" font-size="10.36" font-family="Liberation Sans, sans-serif" text-anchor="end" stroke="#000" stroke-width="0.2" textLength="61.0" lengthAdjust="spacingAndGlyphs" >MARSALA/p+:</text>
<path d="M152.2 522.2L155.3 525.3L152.2 528.4L149.1 525.3Z" fill="#0000FF"/>
<text x="156.6" y="528" font-size="10.12" font-family="Liberation Sans, sans-serif" fill="#0000FF" stroke="#0000FF" stroke-width="0.2" textLength="29.65" lengthAdjust="spacingAndGlyphs" >Normal</text>
<path d="M191.0 523.1L193.1 526.8L188.9 526.8Z" fill="#0000FF"/>
<text x="194.9" y="528" font-size="10.51" font-family="Liberation Sans, sans-serif" fill="#0000FF" stroke="#0000FF" stroke-width="0.2" textLength="34.5" lengthAdjust="spacingAndGlyphs" >Disease</text>
<text x="138.4" y="540" font-size="10.36" font-family="Liberation Sans, sans-serif" text-anchor="end" stroke="#000" stroke-width="0.2" textLength="105.25" lengthAdjust="spacingAndGlyphs" >MARSALA−Bayesian/p+:</text>
<path d="M152.2 533.3L155.3 536.4L152.2 539.5L149.1 536.4Z" fill="#00FF00"/>
<text x="156.6" y="540" font-size="10.12" font-family="Liberation Sans, sans-serif" fill="#00FF00" stroke="#00FF00" stroke-width="0.2" textLength="29.65" lengthAdjust="spacingAndGlyphs" >Normal</text>
<path d="M191.0 534.3L193.1 537.9L188.9 537.9Z" fill="#00FF00"/>
<text x="194.9" y="540" font-size="10.51" font-family="Liberation Sans, sans-serif" fill="#00FF00" stroke="#00FF00" stroke-width="0.2" textLength="34.5" lengthAdjust="spacingAndGlyphs" >Disease</text>
<text x="138.4" y="551" font-size="10.36" font-family="Liberation Sans, sans-serif" text-anchor="end" stroke="#000" stroke-width="0.2" textLength="105.25" lengthAdjust="spacingAndGlyphs" >MARSALA−Bayesian/p−:</text>
<path d="M152.2 544.5L155.3 547.6L152.2 550.7L149.1 547.6Z" fill="#FF0000"/>
<text x="156.6" y="551" font-size="10.12" font-family="Liberation Sans, sans-serif" fill="#FF0000" stroke="#FF0000" stroke-width="0.2" textLength="29.65" lengthAdjust="spacingAndGlyphs" >Normal</text>
<path d="M191.0 545.4L193.1 549.1L188.9 549.1Z" fill="#FF0000"/>
<text x="194.9" y="551" font-size="10.51" font-family="Liberation Sans, sans-serif" fill="#FF0000" stroke="#FF0000" stroke-width="0.2" textLength="34.5" lengthAdjust="spacingAndGlyphs" >Disease</text>
<line x1="41" y1="649.4" x2="316" y2="649.4" stroke="#888" stroke-width="1" />
<line x1="42.10" y1="649.8" x2="42.10" y2="651.0" stroke="#666" stroke-width="0.8" />
<line x1="55.04" y1="649.8" x2="55.04" y2="651.0" stroke="#666" stroke-width="0.8" />
<line x1="67.98" y1="649.8" x2="67.98" y2="651.0" stroke="#666" stroke-width="0.8" />
<line x1="80.92" y1="649.8" x2="80.92" y2="651.0" stroke="#666" stroke-width="0.8" />
<line x1="93.86" y1="649.8" x2="93.86" y2="651.0" stroke="#666" stroke-width="0.8" />
<line x1="106.80" y1="649.8" x2="106.80" y2="651.0" stroke="#666" stroke-width="0.8" />
<line x1="119.74" y1="649.8" x2="119.74" y2="651.0" stroke="#666" stroke-width="0.8" />
<line x1="132.68" y1="649.8" x2="132.68" y2="651.0" stroke="#666" stroke-width="0.8" />
<line x1="145.62" y1="649.8" x2="145.62" y2="651.0" stroke="#666" stroke-width="0.8" />
<line x1="158.56" y1="649.8" x2="158.56" y2="651.0" stroke="#666" stroke-width="0.8" />
<line x1="171.50" y1="649.8" x2="171.50" y2="651.0" stroke="#666" stroke-width="0.8" />
<line x1="184.44" y1="649.8" x2="184.44" y2="651.0" stroke="#666" stroke-width="0.8" />
<line x1="197.38" y1="649.8" x2="197.38" y2="651.0" stroke="#666" stroke-width="0.8" />
<line x1="210.32" y1="649.8" x2="210.32" y2="651.0" stroke="#666" stroke-width="0.8" />
<line x1="223.26" y1="649.8" x2="223.26" y2="651.0" stroke="#666" stroke-width="0.8" />
<line x1="236.20" y1="649.8" x2="236.20" y2="651.0" stroke="#666" stroke-width="0.8" />
<line x1="249.14" y1="649.8" x2="249.14" y2="651.0" stroke="#666" stroke-width="0.8" />
<line x1="262.08" y1="649.8" x2="262.08" y2="651.0" stroke="#666" stroke-width="0.8" />
<line x1="275.02" y1="649.8" x2="275.02" y2="651.0" stroke="#666" stroke-width="0.8" />
<line x1="287.96" y1="649.8" x2="287.96" y2="651.0" stroke="#666" stroke-width="0.8" />
<line x1="300.90" y1="649.8" x2="300.90" y2="651.0" stroke="#666" stroke-width="0.8" />
<line x1="313.84" y1="649.8" x2="313.84" y2="651.0" stroke="#666" stroke-width="0.8" />
<text transform="translate(46,652.3) rotate(-90)" font-size="10.04" font-family="Liberation Sans, sans-serif" text-anchor="end" stroke="#000" stroke-width="0.25" textLength="43.8" lengthAdjust="spacingAndGlyphs" >Case 1 E1</text><path transform="translate(46,652.3) rotate(-90)" d="M-19.56 -1.88H-17.36V1.12H-19.56ZM-15.68 -1.88H-13.56V1.12H-15.68ZM-5.49 -1.88H-3.29V1.12H-5.49ZM-1.61 -1.88H0.51V1.12H-1.61Z" fill="#fff"/>
<text transform="translate(58,652.3) rotate(-90)" font-size="10.04" font-family="Liberation Sans, sans-serif" text-anchor="end" stroke="#000" stroke-width="0.25" textLength="43.8" lengthAdjust="spacingAndGlyphs" >Case 1 E2</text><path transform="translate(58,652.3) rotate(-90)" d="M-19.56 -1.88H-17.36V1.12H-19.56ZM-15.68 -1.88H-13.56V1.12H-15.68Z" fill="#fff"/>
<text transform="translate(71,652.3) rotate(-90)" font-size="10.04" font-family="Liberation Sans, sans-serif" text-anchor="end" stroke="#000" stroke-width="0.25" textLength="43.8" lengthAdjust="spacingAndGlyphs" >Case 1 E3</text><path transform="translate(71,652.3) rotate(-90)" d="M-19.56 -1.88H-17.36V1.12H-19.56ZM-15.68 -1.88H-13.56V1.12H-15.68Z" fill="#fff"/>
<text transform="translate(84,652.3) rotate(-90)" font-size="10.04" font-family="Liberation Sans, sans-serif" text-anchor="end" stroke="#000" stroke-width="0.25" textLength="43.8" lengthAdjust="spacingAndGlyphs" >Case 1 E4</text><path transform="translate(84,652.3) rotate(-90)" d="M-19.56 -1.88H-17.36V1.12H-19.56ZM-15.68 -1.88H-13.56V1.12H-15.68Z" fill="#fff"/>
<text transform="translate(97,652.3) rotate(-90)" font-size="10.04" font-family="Liberation Sans, sans-serif" text-anchor="end" stroke="#000" stroke-width="0.25" textLength="43.8" lengthAdjust="spacingAndGlyphs" >Case 1 E5</text><path transform="translate(97,652.3) rotate(-90)" d="M-19.56 -1.88H-17.36V1.12H-19.56ZM-15.68 -1.88H-13.56V1.12H-15.68Z" fill="#fff"/>
<text transform="translate(110,652.3) rotate(-90)" font-size="10.04" font-family="Liberation Sans, sans-serif" text-anchor="end" stroke="#000" stroke-width="0.25" textLength="43.8" lengthAdjust="spacingAndGlyphs" >Case 1 E6</text><path transform="translate(110,652.3) rotate(-90)" d="M-19.56 -1.88H-17.36V1.12H-19.56ZM-15.68 -1.88H-13.56V1.12H-15.68Z" fill="#fff"/>
<text transform="translate(123,652.3) rotate(-90)" font-size="10.04" font-family="Liberation Sans, sans-serif" text-anchor="end" stroke="#000" stroke-width="0.25" textLength="43.8" lengthAdjust="spacingAndGlyphs" >Case 1 E7</text><path transform="translate(123,652.3) rotate(-90)" d="M-19.56 -1.88H-17.36V1.12H-19.56ZM-15.68 -1.88H-13.56V1.12H-15.68Z" fill="#fff"/>
<text transform="translate(136,652.3) rotate(-90)" font-size="10.04" font-family="Liberation Sans, sans-serif" text-anchor="end" stroke="#000" stroke-width="0.25" textLength="43.8" lengthAdjust="spacingAndGlyphs" >Case 1 E8</text><path transform="translate(136,652.3) rotate(-90)" d="M-19.56 -1.88H-17.36V1.12H-19.56ZM-15.68 -1.88H-13.56V1.12H-15.68Z" fill="#fff"/>
<text transform="translate(149,652.3) rotate(-90)" font-size="10.04" font-family="Liberation Sans, sans-serif" text-anchor="end" stroke="#000" stroke-width="0.25" textLength="43.8" lengthAdjust="spacingAndGlyphs" >Case 1 E9</text><path transform="translate(149,652.3) rotate(-90)" d="M-19.56 -1.88H-17.36V1.12H-19.56ZM-15.68 -1.88H-13.56V1.12H-15.68Z" fill="#fff"/>
<text transform="translate(162,652.3) rotate(-90)" font-size="10.04" font-family="Liberation Sans, sans-serif" text-anchor="end" stroke="#000" stroke-width="0.25" textLength="49.02" lengthAdjust="spacingAndGlyphs" >Case 1 E10</text><path transform="translate(162,652.3) rotate(-90)" d="M-24.78 -1.88H-22.58V1.12H-24.78ZM-20.90 -1.88H-18.78V1.12H-20.90ZM-10.71 -1.88H-8.51V1.12H-10.71ZM-6.83 -1.88H-4.71V1.12H-6.83Z" fill="#fff"/>
<text transform="translate(175,652.3) rotate(-90)" font-size="10.04" font-family="Liberation Sans, sans-serif" text-anchor="end" stroke="#000" stroke-width="0.25" textLength="48.32" lengthAdjust="spacingAndGlyphs" >Case 1 E11</text><path transform="translate(175,652.3) rotate(-90)" d="M-24.08 -1.88H-21.89V1.12H-24.08ZM-20.21 -1.88H-18.09V1.12H-20.21ZM-10.02 -1.88H-7.82V1.12H-10.02ZM-6.14 -1.88H-4.02V1.12H-6.14ZM-5.49 -1.88H-3.29V1.12H-5.49ZM-1.61 -1.88H0.51V1.12H-1.61Z" fill="#fff"/>
<text transform="translate(188,652.3) rotate(-90)" font-size="10.04" font-family="Liberation Sans, sans-serif" text-anchor="end" stroke="#000" stroke-width="0.25" textLength="49.02" lengthAdjust="spacingAndGlyphs" >Case 1 E12</text><path transform="translate(188,652.3) rotate(-90)" d="M-24.78 -1.88H-22.58V1.12H-24.78ZM-20.90 -1.88H-18.78V1.12H-20.90ZM-10.71 -1.88H-8.51V1.12H-10.71ZM-6.83 -1.88H-4.71V1.12H-6.83Z" fill="#fff"/>
<text transform="translate(201,652.3) rotate(-90)" font-size="10.04" font-family="Liberation Sans, sans-serif" text-anchor="end" stroke="#000" stroke-width="0.25" textLength="49.02" lengthAdjust="spacingAndGlyphs" >Case 1 E13</text><path transform="translate(201,652.3) rotate(-90)" d="M-24.78 -1.88H-22.58V1.12H-24.78ZM-20.90 -1.88H-18.78V1.12H-20.90ZM-10.71 -1.88H-8.51V1.12H-10.71ZM-6.83 -1.88H-4.71V1.12H-6.83Z" fill="#fff"/>
<text transform="translate(214,652.3) rotate(-90)" font-size="10.04" font-family="Liberation Sans, sans-serif" text-anchor="end" stroke="#000" stroke-width="0.25" textLength="49.02" lengthAdjust="spacingAndGlyphs" >Case 1 E14</text><path transform="translate(214,652.3) rotate(-90)" d="M-24.78 -1.88H-22.58V1.12H-24.78ZM-20.90 -1.88H-18.78V1.12H-20.90ZM-10.71 -1.88H-8.51V1.12H-10.71ZM-6.83 -1.88H-4.71V1.12H-6.83Z" fill="#fff"/>
<text transform="translate(227,652.3) rotate(-90)" font-size="10.04" font-family="Liberation Sans, sans-serif" text-anchor="end" stroke="#000" stroke-width="0.25" textLength="49.02" lengthAdjust="spacingAndGlyphs" >Case 1 E15</text><path transform="translate(227,652.3) rotate(-90)" d="M-24.78 -1.88H-22.58V1.12H-24.78ZM-20.90 -1.88H-18.78V1.12H-20.90ZM-10.71 -1.88H-8.51V1.12H-10.71ZM-6.83 -1.88H-4.71V1.12H-6.83Z" fill="#fff"/>
<text transform="translate(240,652.3) rotate(-90)" font-size="10.04" font-family="Liberation Sans, sans-serif" text-anchor="end" stroke="#000" stroke-width="0.25" textLength="49.02" lengthAdjust="spacingAndGlyphs" >Case 1 E16</text><path transform="translate(240,652.3) rotate(-90)" d="M-24.78 -1.88H-22.58V1.12H-24.78ZM-20.90 -1.88H-18.78V1.12H-20.90ZM-10.71 -1.88H-8.51V1.12H-10.71ZM-6.83 -1.88H-4.71V1.12H-6.83Z" fill="#fff"/>
<text transform="translate(253,652.3) rotate(-90)" font-size="10.04" font-family="Liberation Sans, sans-serif" text-anchor="end" stroke="#000" stroke-width="0.25" textLength="49.02" lengthAdjust="spacingAndGlyphs" >Case 1 E17</text><path transform="translate(253,652.3) rotate(-90)" d="M-24.78 -1.88H-22.58V1.12H-24.78ZM-20.90 -1.88H-18.78V1.12H-20.90ZM-10.71 -1.88H-8.51V1.12H-10.71ZM-6.83 -1.88H-4.71V1.12H-6.83Z" fill="#fff"/>
<text transform="translate(265,652.3) rotate(-90)" font-size="10.04" font-family="Liberation Sans, sans-serif" text-anchor="end" stroke="#000" stroke-width="0.25" textLength="49.02" lengthAdjust="spacingAndGlyphs" >Case 1 E18</text><path transform="translate(265,652.3) rotate(-90)" d="M-24.78 -1.88H-22.58V1.12H-24.78ZM-20.90 -1.88H-18.78V1.12H-20.90ZM-10.71 -1.88H-8.51V1.12H-10.71ZM-6.83 -1.88H-4.71V1.12H-6.83Z" fill="#fff"/>
<text transform="translate(278,652.3) rotate(-90)" font-size="10.04" font-family="Liberation Sans, sans-serif" text-anchor="end" stroke="#000" stroke-width="0.25" textLength="43.8" lengthAdjust="spacingAndGlyphs" >Case 2 E1</text><path transform="translate(278,652.3) rotate(-90)" d="M-5.49 -1.88H-3.29V1.12H-5.49ZM-1.61 -1.88H0.51V1.12H-1.61Z" fill="#fff"/>
<text transform="translate(291,652.3) rotate(-90)" font-size="10.04" font-family="Liberation Sans, sans-serif" text-anchor="end" stroke="#000" stroke-width="0.25" textLength="43.8" lengthAdjust="spacingAndGlyphs" >Case 2 E2</text>
<text transform="translate(304,652.3) rotate(-90)" font-size="10.04" font-family="Liberation Sans, sans-serif" text-anchor="end" stroke="#000" stroke-width="0.25" textLength="43.8" lengthAdjust="spacingAndGlyphs" >Case 2 E3</text>
<text transform="translate(317,652.3) rotate(-90)" font-size="10.04" font-family="Liberation Sans, sans-serif" text-anchor="end" stroke="#000" stroke-width="0.25" textLength="43.8" lengthAdjust="spacingAndGlyphs" >Case 2 E4</text>
<path d="M42.1 598.9L45.3 602.1L42.1 605.3L38.9 602.1Z" fill="#0000FF"/>
<path d="M42.1 603.7L45.3 606.9L42.1 610.1L38.9 606.9Z" fill="#00FF00"/>
<path d="M42.1 612.3L45.3 615.5L42.1 618.7L38.9 615.5Z" fill="#FF0000"/>
<path d="M55.0 599.6L58.2 602.8L55.0 606.0L51.8 602.8Z" fill="#0000FF"/>
<path d="M55.0 607.2L58.2 610.4L55.0 613.6L51.8 610.4Z" fill="#00FF00"/>
<path d="M55.0 616.8L58.2 620.0L55.0 623.2L51.8 620.0Z" fill="#FF0000"/>
<path d="M68.0 599.6L71.2 602.8L68.0 606.0L64.8 602.8Z" fill="#0000FF"/>
<path d="M68.0 614.4L71.2 617.6L68.0 620.8L64.8 617.6Z" fill="#00FF00"/>
<path d="M68.0 621.6L71.2 624.8L68.0 628.0L64.8 624.8Z" fill="#FF0000"/>
<path d="M80.9 599.6L84.1 602.8L80.9 606.0L77.7 602.8Z" fill="#0000FF"/>
<path d="M80.9 614.4L84.1 617.6L80.9 620.8L77.7 617.6Z" fill="#00FF00"/>
<path d="M80.9 621.6L84.1 624.8L80.9 628.0L77.7 624.8Z" fill="#FF0000"/>
<path d="M93.9 549.8L96.3 554.1L91.4 554.1Z" fill="#00FF00"/>
<path d="M93.9 555.9L96.3 560.2L91.4 560.2Z" fill="#FF0000"/>
<path d="M93.9 558.6L96.3 562.9L91.4 562.9Z" fill="#0000FF"/>
<path d="M106.8 609.9L109.3 614.2L104.4 614.2Z" fill="#0000FF"/>
<path d="M106.8 633.2L109.3 637.5L104.4 637.5Z" fill="#00FF00"/>
<path d="M106.8 636.7L109.3 641.0L104.4 641.0Z" fill="#FF0000"/>
<path d="M119.7 599.4L122.9 602.6L119.7 605.8L116.5 602.6Z" fill="#0000FF"/>
<path d="M119.7 607.4L122.9 610.6L119.7 613.8L116.5 610.6Z" fill="#00FF00"/>
<path d="M119.7 616.9L122.9 620.1L119.7 623.3L116.5 620.1Z" fill="#FF0000"/>
<path d="M132.7 599.4L135.9 602.6L132.7 605.8L129.5 602.6Z" fill="#0000FF"/>
<path d="M132.7 607.4L135.9 610.6L132.7 613.8L129.5 610.6Z" fill="#00FF00"/>
<path d="M132.7 616.9L135.9 620.1L132.7 623.3L129.5 620.1Z" fill="#FF0000"/>
<path d="M145.6 568.2L148.1 572.5L143.2 572.5Z" fill="#0000FF"/>
<path d="M145.6 578.4L148.1 582.7L143.2 582.7Z" fill="#00FF00"/>
<path d="M145.6 583.6L148.1 587.9L143.2 587.9Z" fill="#FF0000"/>
<path d="M158.6 609.9L161.0 614.2L156.1 614.2Z" fill="#0000FF"/>
<path d="M158.6 620.9L161.0 625.2L156.1 625.2Z" fill="#00FF00"/>
<path d="M158.6 625.1L161.0 629.4L156.1 629.4Z" fill="#FF0000"/>
<path d="M171.5 609.9L173.9 614.2L169.1 614.2Z" fill="#0000FF"/>
<path d="M171.5 622.7L173.9 627.0L169.1 627.0Z" fill="#00FF00"/>
<path d="M171.5 625.7L173.9 630.0L169.1 630.0Z" fill="#FF0000"/>
<path d="M184.4 609.9L186.9 614.2L182.0 614.2Z" fill="#0000FF"/>
<path d="M184.4 633.2L186.9 637.5L182.0 637.5Z" fill="#00FF00"/>
<path d="M184.4 636.7L186.9 641.0L182.0 641.0Z" fill="#FF0000"/>
<path d="M197.4 560.8L200.6 564.0L197.4 567.2L194.2 564.0Z" fill="#0000FF"/>
<path d="M197.4 610.7L200.6 613.9L197.4 617.1L194.2 613.9Z" fill="#00FF00"/>
<path d="M197.4 621.6L200.6 624.8L197.4 628.0L194.2 624.8Z" fill="#FF0000"/>
<path d="M210.3 599.4L213.5 602.6L210.3 605.8L207.1 602.6Z" fill="#0000FF"/>
<path d="M210.3 613.7L213.5 616.9L210.3 620.1L207.1 616.9Z" fill="#00FF00"/>
<path d="M210.3 617.4L213.5 620.6L210.3 623.8L207.1 620.6Z" fill="#FF0000"/>
<path d="M223.3 599.4L226.5 602.6L223.3 605.8L220.1 602.6Z" fill="#0000FF"/>
<path d="M223.3 607.2L226.5 610.4L223.3 613.6L220.1 610.4Z" fill="#00FF00"/>
<path d="M223.3 616.9L226.5 620.1L223.3 623.3L220.1 620.1Z" fill="#FF0000"/>
<path d="M236.2 600.3L238.6 604.6L233.8 604.6Z" fill="#0000FF"/>
<path d="M236.2 633.2L238.6 637.5L233.8 637.5Z" fill="#00FF00"/>
<path d="M236.2 636.7L238.6 641.0L233.8 641.0Z" fill="#FF0000"/>
<path d="M249.1 599.4L252.3 602.6L249.1 605.8L245.9 602.6Z" fill="#0000FF"/>
<path d="M249.1 614.1L252.3 617.3L249.1 620.5L245.9 617.3Z" fill="#00FF00"/>
<path d="M249.1 621.6L252.3 624.8L249.1 628.0L245.9 624.8Z" fill="#FF0000"/>
<path d="M262.1 599.4L265.3 602.6L262.1 605.8L258.9 602.6Z" fill="#0000FF"/>
<path d="M262.1 614.1L265.3 617.3L262.1 620.5L258.9 617.3Z" fill="#00FF00"/>
<path d="M262.1 621.6L265.3 624.8L262.1 628.0L258.9 624.8Z" fill="#FF0000"/>
<path d="M275.0 604.2L277.5 608.5L272.6 608.5Z" fill="#0000FF"/>
<path d="M275.0 640.0L277.5 644.3L272.6 644.3Z" fill="#00FF00"/>
<path d="M275.0 643.2L277.5 647.5L272.6 647.5Z" fill="#FF0000"/>
<path d="M288.0 581.9L291.2 585.1L288.0 588.3L284.8 585.1Z" fill="#0000FF"/>
<path d="M288.0 601.2L291.2 604.4L288.0 607.6L284.8 604.4Z" fill="#00FF00"/>
<path d="M288.0 611.9L291.2 615.1L288.0 618.3L284.8 615.1Z" fill="#FF0000"/>
<path d="M300.9 610.2L303.4 614.5L298.5 614.5Z" fill="#0000FF"/>
<path d="M300.9 627.9L303.4 632.2L298.5 632.2Z" fill="#FF0000"/>
<path d="M300.9 634.1L303.4 638.4L298.5 638.4Z" fill="#00FF00"/>
<path d="M313.8 603.1L317.0 606.3L313.8 609.5L310.6 606.3Z" fill="#FF0000"/>
<path d="M313.8 545.1L317.0 548.3L313.8 551.5L310.6 548.3Z" fill="#00FF00"/>
<path d="M313.8 541.9L317.0 545.1L313.8 548.3L310.6 545.1Z" fill="#0000FF"/>
<text x="345.0" y="504" font-size="17.0" font-family="Liberation Sans, sans-serif" >e.</text>
<text x="409.2" y="496" font-size="11.6" font-family="Liberation Sans, sans-serif" font-weight="bold" textLength="217.5" lengthAdjust="spacingAndGlyphs" >Case 2 E4: Probability of coming from</text>
<text x="440.3" y="506" font-size="11.6" font-family="Liberation Sans, sans-serif" font-weight="bold" textLength="154.4" lengthAdjust="spacingAndGlyphs" >the disease−carrying allele</text>
<rect x="363.4" y="511.2" width="309.1" height="174.59999999999997" fill="none" stroke="#555" stroke-width="1.1" />
<line x1="361" y1="679.3" x2="363.4" y2="679.3" stroke="#333" stroke-width="1" />
<text transform="translate(360,679.3) rotate(-90)" font-size="9.15" font-family="Liberation Sans, sans-serif" text-anchor="middle" textLength="4.89" lengthAdjust="spacingAndGlyphs" >0</text>
<line x1="361" y1="647.0" x2="363.4" y2="647.0" stroke="#333" stroke-width="1" />
<text transform="translate(360,647.0) rotate(-90)" font-size="9.15" font-family="Liberation Sans, sans-serif" text-anchor="middle" textLength="12.23" lengthAdjust="spacingAndGlyphs" >0.2</text>
<line x1="361" y1="614.6999999999999" x2="363.4" y2="614.6999999999999" stroke="#333" stroke-width="1" />
<text transform="translate(360,614.7) rotate(-90)" font-size="9.15" font-family="Liberation Sans, sans-serif" text-anchor="middle" textLength="12.23" lengthAdjust="spacingAndGlyphs" >0.4</text>
<line x1="361" y1="582.4" x2="363.4" y2="582.4" stroke="#333" stroke-width="1" />
<text transform="translate(360,582.4) rotate(-90)" font-size="9.15" font-family="Liberation Sans, sans-serif" text-anchor="middle" textLength="12.23" lengthAdjust="spacingAndGlyphs" >0.6</text>
<line x1="361" y1="550.0999999999999" x2="363.4" y2="550.0999999999999" stroke="#333" stroke-width="1" />
<text transform="translate(360,550.1) rotate(-90)" font-size="9.15" font-family="Liberation Sans, sans-serif" text-anchor="middle" textLength="12.23" lengthAdjust="spacingAndGlyphs" >0.8</text>
<line x1="361" y1="517.8" x2="363.4" y2="517.8" stroke="#333" stroke-width="1" />
<text transform="translate(360,517.8) rotate(-90)" font-size="9.15" font-family="Liberation Sans, sans-serif" text-anchor="middle" textLength="4.89" lengthAdjust="spacingAndGlyphs" >1</text><path transform="translate(360,517.8) rotate(-90)" d="M-2.62 -1.68H-0.53V1.00H-2.62ZM0.85 -1.68H2.88V1.00H0.85Z" fill="#fff"/>
<text transform="translate(343,598.4) rotate(-90)" font-size="9.97" font-family="Liberation Sans, sans-serif" text-anchor="middle" textLength="169.76" lengthAdjust="spacingAndGlyphs" >Probability of coming from the disease−</text>
<text transform="translate(352,599.25) rotate(-90)" font-size="10.02" font-family="Liberation Sans, sans-serif" text-anchor="middle" textLength="151.97" lengthAdjust="spacingAndGlyphs" >carrying allele for every linkage site</text>
<line x1="422.6" y1="685.8" x2="422.6" y2="687.8" stroke="#555" stroke-width="1" />
<line x1="517.9" y1="685.8" x2="517.9" y2="687.8" stroke="#555" stroke-width="1" />
<line x1="613.5" y1="685.8" x2="613.5" y2="687.8" stroke="#555" stroke-width="1" />
<text x="351" y="697" font-size="9.4" font-family="Liberation Sans, sans-serif" textLength="105.1" lengthAdjust="spacingAndGlyphs" >MARSALA−Bayesian/p+</text>
<text x="456.2" y="703" font-size="9.4" font-family="Liberation Sans, sans-serif" textLength="123.5" lengthAdjust="spacingAndGlyphs" >MARSALA−Bayesian/p+,pb+</text>
<text x="579.7" y="697" font-size="9.4" font-family="Liberation Sans, sans-serif" textLength="105.3" lengthAdjust="spacingAndGlyphs" >MARSALA−Bayesian/p−</text>
<path d="M388.4 545.4 L457.1 545.4 C460 549 461 553 461 559.5 C461 575 448.5 590 448.5 607 C448.5 624 461 636 461 648 C461 655 460 660 457.1 665 L388.4 665 C385.5 660 384.3 655 384.3 648 C384.3 636 396.3 624 396.3 607 C396.3 590 384.3 575 384.3 559.5 C384.3 553 385.5 549 388.4 545.4 Z" fill="#0000FF" stroke="#000" stroke-width="0.7"/>
<line x1="422.6" y1="545.4" x2="422.6" y2="665" stroke="#000" stroke-width="0.8" />
<rect x="419.9" y="556.8" width="5.2" height="93.9" fill="#000" stroke="none" stroke-width="1" />
<circle cx="422.6" cy="606.7" r="1.5" fill="#fff"/>
<path d="M514.2 622.2 L521.8 622.2 C522.5 628 524 634 532.8 639.4 C540 643.5 556.4 647 556.4 651.8 C556.4 654.5 550 657 545.2 657.7 L490.4 657.7 C486 657 479.5 654.5 479.5 651.8 C479.5 647 496 643.5 502.8 639.4 C511.5 634 513.5 628 514.2 622.2 Z" fill="#0000FF" stroke="#000" stroke-width="0.7"/>
<line x1="517.9" y1="633.3" x2="517.9" y2="657.7" stroke="#000" stroke-width="0.8" />
<rect x="515.3" y="645.3" width="5.4" height="8" fill="#000" stroke="none" stroke-width="1" />
<circle cx="517.9" cy="650.8" r="1.4" fill="#fff"/>
<path d="M604.2 545.4 L622.4 545.4 C622.4 552 620.3 565 620.3 577 C620.3 595 624.7 600 630 612 C637 625 652 642 651.9 659.3 C651.9 664 650.5 668 649.6 670.7 L577.7 670.7 C576.5 668 575.4 664 575.4 659.3 C575.4 642 591 625 597 612 C602 600 607.2 595 607.2 577 C607.2 565 604.2 552 604.2 545.4 Z" fill="#0000FF" stroke="#000" stroke-width="0.7"/>
<line x1="613.5" y1="570.8" x2="613.5" y2="670.7" stroke="#000" stroke-width="0.8" />
<rect x="611" y="627.1" width="5" height="37.2" fill="#000" stroke="none" stroke-width="1" />
<circle cx="613.5" cy="661.6" r="1.4" fill="#fff"/>
</svg>
</body></html>
